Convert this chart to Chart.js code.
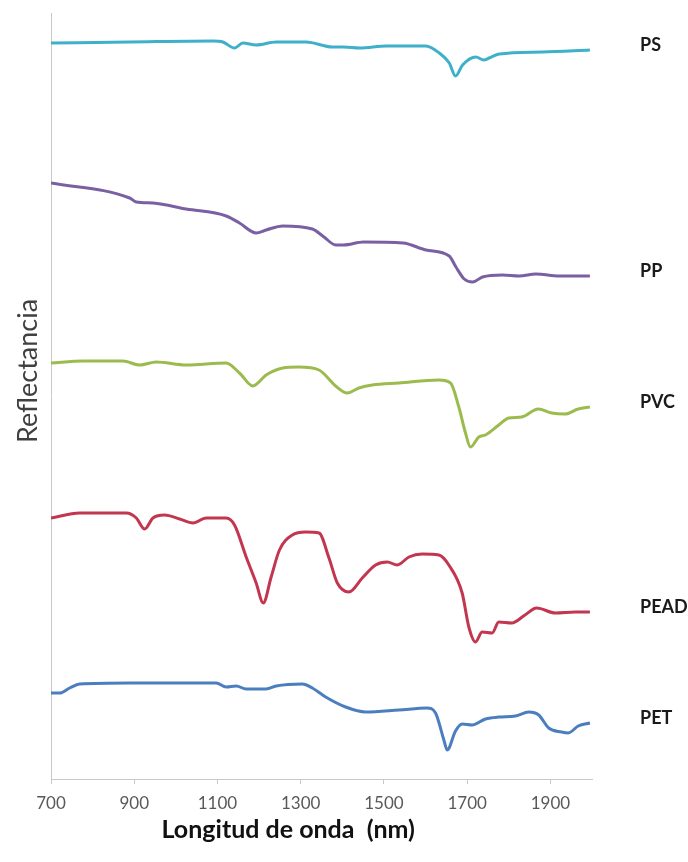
<!DOCTYPE html>
<html>
<head>
<meta charset="utf-8">
<script src="https://cdn.jsdelivr.net/npm/chart.js@4/dist/chart.umd.min.js"></script>
<style>
  body { margin: 0; background: #fff; }
  #wrap { width: 688px; height: 862px; position: relative; }
</style>
</head>
<body>
<div id="wrap"><canvas id="grafico"></canvas></div>
<script>
// Longitudes de onda (nm) y reflectancia (unidades arbitrarias, curvas desplazadas)
const psX = [700, 889, 1089, 1113, 1141, 1161, 1193, 1241, 1313, 1376, 1403, 1442, 1506, 1601, 1633, 1657, 1672, 1689, 1721, 1740, 1753, 1777, 1881, 1995];
const psY = [736, 737, 738, 737, 731, 736, 734, 737, 737, 732, 732, 731, 733, 733, 726, 716, 703, 714, 722, 719, 721, 725, 727, 729];

const ppX = [700, 889, 905, 945, 1025, 1121, 1153, 1193, 1217, 1257, 1328, 1356, 1384, 1403, 1451, 1546, 1601, 1657, 1673, 1693, 1713, 1737, 1785, 1825, 1865, 1921, 1995];
const ppY = [596, 581, 577, 576, 570, 563, 556, 546, 549, 553, 550, 542, 534, 534, 537, 536, 529, 523, 512, 500, 497, 502, 504, 503, 505, 503, 503];

const pvcX = [700, 777, 873, 913, 953, 1025, 1121, 1153, 1185, 1217, 1257, 1296, 1344, 1384, 1412, 1440, 1472, 1536, 1632, 1660, 1680, 1696, 1708, 1728, 1744, 1776, 1800, 1831, 1871, 1903, 1935, 1967, 1995];
const pvcY = [416, 418, 418, 414, 417, 414, 416, 406, 393, 404, 411, 412, 409, 393, 386, 391, 394, 396, 399, 396, 372, 346, 332, 342, 344, 354, 361, 362, 370, 366, 365, 370, 372];

const peadX = [700, 769, 881, 905, 925, 945, 973, 1009, 1041, 1073, 1121, 1141, 1169, 1193, 1210, 1229, 1249, 1280, 1312, 1344, 1368, 1388, 1416, 1448, 1480, 1508, 1532, 1560, 1592, 1632, 1656, 1688, 1704, 1720, 1736, 1760, 1776, 1807, 1839, 1867, 1912, 1960, 1995];
const peadY = [261, 266, 266, 261, 250, 261, 264, 260, 256, 261, 261, 254, 222, 196, 176, 202, 229, 244, 247, 246, 221, 196, 187, 201, 214, 217, 214, 222, 225, 224, 214, 186, 152, 137, 147, 146, 157, 156, 164, 171, 166, 167, 167];

const petX = [700, 721, 745, 769, 889, 993, 1097, 1121, 1145, 1169, 1217, 1241, 1304, 1328, 1360, 1408, 1456, 1536, 1604, 1624, 1644, 1652, 1672, 1688, 1712, 1744, 1776, 1816, 1848, 1872, 1896, 1927, 1943, 1967, 1995];
const petY = [86, 86, 91, 95, 96, 96, 96, 92, 93, 90, 90, 93, 95, 91, 82, 72, 67, 69, 71, 66, 39, 29, 48, 55, 54, 60, 62, 63, 67, 64, 51, 47, 46, 53, 56];

const nombres = ['PS', 'PP', 'PVC', 'PEAD', 'PET'];
const colores = ['#3fb0c9', '#7a5fa3', '#9cbb4f', '#c2364f', '#4a7ebf'];
const marcasX = [700, 900, 1100, 1300, 1500, 1700, 1900];

const pares = (xs, ys) => xs.map((x, i) => ({ x: x, y: ys[i] }));
const series = [pares(psX, psY), pares(ppX, ppY), pares(pvcX, pvcY), pares(peadX, peadY), pares(petX, petY)];

// Etiquetas al final de cada curva y títulos de los ejes
const etiquetas = {
  id: 'etiquetas',
  afterDraw(chart) {
    const ctx = chart.ctx;
    const xs = chart.scales.x, ys = chart.scales.y;
    ctx.save();
    ctx.fillStyle = '#1a1a1a';
    ctx.font = 'bold 18px Lato';
    ctx.textBaseline = 'middle';
    ctx.textAlign = 'left';
    chart.data.datasets.forEach((ds) => {
      const ultimo = ds.data[ds.data.length - 1];
      ctx.fillText(ds.label, chart.chartArea.right + 48, ys.getPixelForValue(ultimo.y) - 5);
    });
    // título eje X
    ctx.font = 'bold 25px Lato';
    ctx.textAlign = 'center';
    ctx.textBaseline = 'alphabetic';
    ctx.fillStyle = '#111';
    ctx.fillText('Longitud de onda  (nm)', xs.getPixelForValue(1270), 838);
    // título eje Y
    ctx.translate(37, ys.getPixelForValue(408));
    ctx.rotate(-Math.PI / 2);
    ctx.font = '27px Lato';
    ctx.fillStyle = '#404040';
    ctx.fillText('Reflectancia', 0, 0);
    ctx.restore();
  }
};

new Chart(document.getElementById('grafico').getContext('2d'), {
  type: 'line',
  data: {
    datasets: series.map((d, i) => ({
      label: nombres[i],
      data: d,
      borderColor: colores[i],
      borderWidth: 3,
      pointRadius: 0,
      fill: false,
      cubicInterpolationMode: 'monotone'
    }))
  },
  options: {
    responsive: true,
    maintainAspectRatio: false,
    animation: false,
    layout: { padding: { top: 13, right: 96, left: 0, bottom: 0 } },
    plugins: { legend: { display: false }, tooltip: { enabled: false } },
    scales: {
      x: {
        type: 'linear',
        min: 700,
        max: 2000,
        afterBuildTicks: (s) => { s.ticks = marcasX.map(v => ({ value: v })); },
        afterFit: (s) => { s.height = 83; },
        ticks: {
          padding: 9,
          color: '#595959',
          font: { family: 'Lato', size: 17 },
          callback: (v) => String(v)
        },
        grid: { drawOnChartArea: false, drawTicks: true, tickLength: 5, color: '#c8c8c8' },
        border: { color: '#c8c8c8', width: 1 }
      },
      y: {
        min: 0,
        max: 766,
        afterFit: (s) => { s.width = 51; },
        ticks: { display: false },
        grid: { display: false },
        border: { color: '#c8c8c8', width: 1 }
      }
    }
  },
  plugins: [etiquetas]
});
</script>
</body>
</html>
